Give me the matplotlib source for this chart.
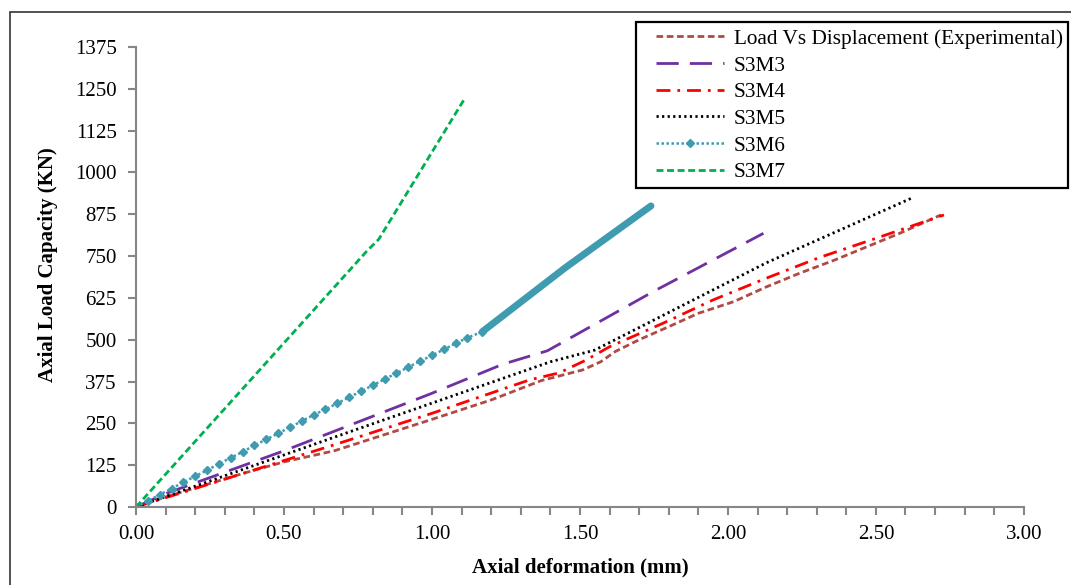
import matplotlib
matplotlib.use("Agg")
import matplotlib.pyplot as plt
from matplotlib.patches import Rectangle
from matplotlib.ticker import MultipleLocator, FormatStrFormatter

plt.rcParams['font.family'] = ['Liberation Serif', 'DejaVu Serif']

# load (kN) against axial deformation (mm)
exp_x = [0, 0.10, 0.36, 0.50, 0.67, 1.00, 1.20, 1.37, 1.51, 1.57, 1.62, 1.70, 1.80,
         1.90, 2.02, 2.13, 2.24, 2.36, 2.47, 2.58, 2.72]
exp_y = [0, 30, 100, 135, 168, 262, 320, 378, 410, 434, 465, 500, 539,
         579, 614, 658, 698, 738, 778, 818, 873]

m3_x = [0, 0.10, 0.50, 1.00, 1.24, 1.39, 1.75, 2.12]
m3_y = [0, 40, 168, 340, 427, 467, 645, 818]

m4_x = [0, 0.67, 1.00, 1.33, 1.43, 1.52, 1.60, 1.78, 1.95, 2.13, 2.31, 2.49, 2.73]
m4_y = [0, 186, 280, 380, 401, 439, 479, 549, 619, 684, 746, 800, 873]

m5_x = [0, 0.70, 1.40, 1.55, 2.13, 2.62]
m5_y = [0, 218, 434, 469, 730, 923]

m6_x = [0, 0.04, 0.08, 0.12, 0.16, 0.20, 0.24, 0.28, 0.32, 0.36, 0.40, 0.44, 0.48,
        0.52, 0.56, 0.60, 0.64, 0.68, 0.72, 0.76, 0.80, 0.84, 0.88, 0.92, 0.96,
        1.00, 1.04, 1.08, 1.12, 1.17]
m6_y = [0, 18, 37, 55, 74, 92, 110, 129, 147, 165, 184, 202, 220,
        238, 257, 275, 292, 310, 328, 346, 364, 382, 400, 418, 436,
        453, 471, 489, 506, 524]
# closely spaced readings above 1.17 mm
m6_dense_x = [1.17, 1.45, 1.74]
m6_dense_y = [524, 715, 900]

m7_x = [0, 0.78, 0.82, 1.11]
m7_y = [0, 765, 800, 1220]

fig = plt.figure(figsize=(10.71, 5.85), dpi=100)
ax = fig.add_axes([0.127, 0.1333, 0.829, 0.7864])

ax.plot(exp_x, exp_y, color='#B04A46', lw=2, ls=(0, (2.4, 1.3)),
        label='Load Vs Displacement (Experimental)')
ax.plot(m3_x, m3_y, color='#7030A0', lw=2, ls=(0, (8, 4)), label='S3M3')
ax.plot(m4_x, m4_y, color='#FF0000', lw=2, ls=(0, (5, 2.5, 1, 2.5)), label='S3M4')
ax.plot(m5_x, m5_y, color='black', lw=2, ls=(0, (0.8, 1.2)), label='S3M5')
ax.plot(m6_x, m6_y, color='#3E9BB0', lw=1.8, ls=(0, (1, 1)), marker='D', ms=4,
        label='S3M6')
ax.plot(m6_dense_x, m6_dense_y, color='#3E9BB0', lw=5, solid_capstyle='round')
ax.plot(m7_x, m7_y, color='#00B050', lw=2, ls=(0, (2.5, 1.3)), label='S3M7')

ax.set_xlim(0, 3)
ax.set_ylim(0, 1375)
ax.xaxis.set_major_locator(MultipleLocator(0.5))
ax.xaxis.set_minor_locator(MultipleLocator(0.1))
ax.xaxis.set_major_formatter(FormatStrFormatter('%.2f'))
ax.yaxis.set_major_locator(MultipleLocator(125))

for side in ['top', 'right']:
    ax.spines[side].set_visible(False)
for side in ['left', 'bottom']:
    ax.spines[side].set_color('#868686')
    ax.spines[side].set_linewidth(1.5)
ax.tick_params(axis='both', which='both', color='#868686', width=1.5,
               labelsize=15, direction='out')
ax.tick_params(axis='both', which='major', length=6)
ax.tick_params(axis='x', which='minor', length=6)
ax.tick_params(axis='y', pad=8)
ax.tick_params(axis='x', pad=7)

ax.set_xlabel('Axial deformation (mm)', fontsize=15, fontweight='bold', labelpad=10)
ax.set_ylabel('Axial Load Capacity (KN)', fontsize=15, fontweight='bold')
ax.yaxis.set_label_coords(-0.088, 0.526)

leg = fig.legend(loc='upper left', bbox_to_anchor=(656 / 1071, 1 - 29 / 585),
                 fontsize=15.3, frameon=False, numpoints=1,
                 handlelength=3.2, handletextpad=0.45, labelspacing=0.32,
                 borderpad=0, borderaxespad=0)

# legend frame
fig.add_artist(Rectangle((636 / 1071, 1 - 188 / 585), 432 / 1071, 166 / 585,
                         transform=fig.transFigure, fill=False,
                         edgecolor='black', lw=1.6))

# chart area border
fig.add_artist(Rectangle((10 / 1071, -0.5), 2, 0.5 + 1 - 12 / 585,
                         transform=fig.transFigure, fill=False,
                         edgecolor='#333333', lw=1.2))

fig.savefig('out.png', dpi=100)
